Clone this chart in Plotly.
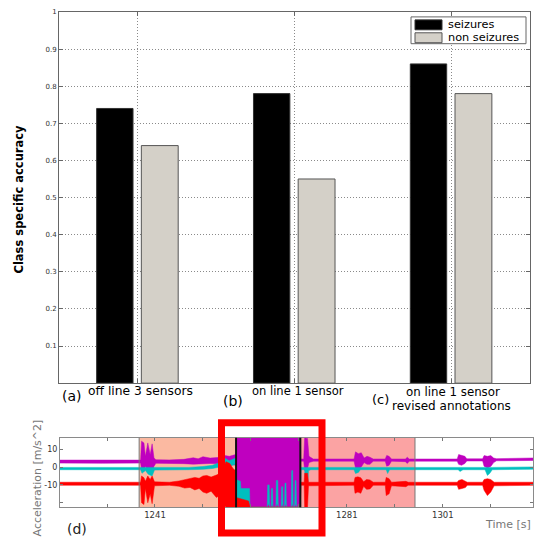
import plotly.graph_objects as go

W, H = 537, 538

# ---------------- data: bar chart ----------------
CAT_X = [1, 2, 3]
CAT_LETTERS = ["(a)", "(b)", "(c)"]
CAT_NAMES = ["off line 3 sensors", "on line 1 sensor", "on line 1 sensor", "revised annotations"]
SEIZURES = [0.74, 0.78, 0.86]
NON_SEIZURES = [0.64, 0.55, 0.78]
ACC_TICKS = [0.1, 0.2, 0.3, 0.4, 0.5, 0.6, 0.7, 0.8, 0.9, 1.0]
ACC_TICKTEXT = ["0.1", "0.2", "0.3", "0.4", "0.5", "0.6", "0.7", "0.8", "0.9", "1"]

# ---------------- data: acceleration panel (envelopes) ----------------
TIME_TICKS = [1231, 1241, 1251, 1261, 1271, 1281, 1291, 1301, 1311]
TIME_TICKTEXT = ["", "1241", "", "", "", "1281", "", "1301", ""]
ACC2_TICKS = [-20, -10, 0, 10]
ACC2_TICKTEXT = ["", "-10", "0", "10"]

PRE_SEIZURE = [1237.7, 1257.9]
SEIZURE = [1257.9, 1271.3]
POST_SEIZURE = [1271.3, 1295.2]

MAG_T = [1221, 1230, 1238.0, 1238.2, 1238.7, 1239.0, 1239.5, 1240.0, 1240.4, 1240.8, 1241.2,
         1244, 1247, 1249, 1250, 1251, 1252.5, 1254, 1255.5, 1256.5, 1257.8,
         1257.9, 1271.3,
         1271.4, 1272.0, 1272.2, 1272.8, 1273.1, 1274, 1282.5, 1282.8, 1283.4, 1284.0, 1284.6,
         1285.2, 1285.8, 1286.5, 1289.0, 1289.3, 1289.8, 1290.3, 1293.2, 1293.6, 1294.0,
         1304.0, 1304.3, 1304.9, 1305.6, 1306.0, 1309.3, 1309.6, 1310.3, 1311.0, 1311.6,
         1312.2, 1320.5]
MAG_HI = [3.9, 4.0, 3.9, 14.5, 13.5, 6.0, 13.5, 7.0, 13.0, 5.0, 4.1,
          4.0, 4.3, 5.2, 4.6, 5.8, 5.0, 5.3, 6.5, 6.0, 7.0,
          16.4, 16.4,
          4.5, 4.5, 16.4, 16.0, 6.0, 4.5, 4.5, 8.5, 7.5, 8.0, 5.0,
          6.0, 5.5, 4.5, 4.5, 6.5, 6.0, 4.5, 4.5, 5.5, 4.5,
          4.5, 7.0, 6.4, 6.0, 4.6, 4.6, 6.4, 6.0, 6.4, 5.0,
          4.7, 5.1]
MAG_LO = [2.2, 2.1, 2.2, -1.5, -2.5, 0.5, -2.0, -1.0, -3.0, 0.5, 2.1,
          2.2, 1.9, 1.6, 2.0, 1.8, 2.0, 1.8, 1.5, 1.5, 1.0,
          -22.5, -22.5,
          3.3, 3.3, -2.0, -1.0, 2.5, 3.3, 3.3, -0.5, -1.0, 0.0, 2.5,
          1.5, 1.5, 3.3, 3.3, 0.5, 1.0, 3.3, 3.0, 2.0, 3.3,
          3.3, 1.5, 1.0, 2.0, 3.4, 3.4, 0.5, -0.5, 0.3, 2.5,
          3.5, 3.7]

CYA_T = [1221, 1238.0, 1238.3, 1239.0, 1239.6, 1240.4, 1240.9, 1248, 1251, 1253, 1254.5,
         1255.5, 1256.5, 1257.8,
         1257.9, 1258.8, 1258.9, 1260.7, 1260.8, 1264.4, 1264.5, 1264.8, 1264.9, 1265.2,
         1265.3, 1265.5, 1265.6, 1266.2, 1266.3, 1266.6, 1266.7, 1267.3, 1267.4, 1267.6,
         1267.7, 1268.0, 1268.1, 1268.3, 1268.4, 1269.4, 1269.5, 1269.7, 1269.8, 1270.1,
         1270.2, 1270.4, 1270.5, 1271.3,
         1271.4, 1272.2, 1272.4, 1272.8, 1273.0, 1273.5, 1282.5, 1282.8, 1283.4, 1283.8,
         1289.2, 1289.5, 1289.9, 1304.2, 1304.6, 1305.2, 1309.8, 1310.3, 1310.8, 1311.3, 1320.5]
CYA_HI = [-0.2, -0.2, -0.5, -0.3, -0.5, -0.5, -0.2, -0.2, 0.3, 1.0, 2.5,
          5.0, 3.5, 5.0,
          -7.0, -8.0, -12.0, -12.0, -22.5, -22.5, -10.0, -10.0, -22.5, -22.5,
          -12.0, -12.0, -22.5, -22.5, -7.5, -7.5, -22.5, -22.5, -11.0, -11.0,
          -22.5, -22.5, -9.0, -9.0, -22.5, -22.5, -2.0, -2.0, -22.5, -22.5,
          -7.5, -7.5, -22.5, -22.5,
          -0.2, -0.2, -0.5, -0.5, -0.2, -0.2, -0.2, -0.3, -0.3, -0.2,
          -0.2, -0.3, -0.2, -0.2, -0.3, -0.2, -0.2, -0.3, -0.2, -0.2, 0.1]
CYA_LO = [-1.5, -1.5, -3.5, -2.0, -4.0, -5.0, -1.7, -1.5, -1.3, -0.8, 0.0,
          1.0, 0.5, 1.5,
          -20.0, -20.0, -20.0, -20.0, -22.5, -22.5, -21.0, -21.0, -22.5, -22.5,
          -21.0, -21.0, -22.5, -22.5, -21.0, -21.0, -22.5, -22.5, -21.0, -21.0,
          -22.5, -22.5, -21.0, -21.0, -22.5, -22.5, -21.0, -21.0, -22.5, -22.5,
          -21.0, -21.0, -22.5, -22.5,
          -1.5, -1.5, -14.0, -12.0, -2.0, -1.5, -1.5, -3.6, -3.0, -1.5,
          -1.5, -3.6, -1.5, -1.5, -2.5, -1.5, -1.5, -4.7, -3.5, -1.5, -1.2]

RED_T = [1221, 1238.0, 1238.2, 1238.7, 1239.0, 1239.5, 1240.0, 1240.4, 1240.9, 1244, 1246,
         1247.2, 1248.3, 1249.3, 1250.2, 1251.0, 1251.8, 1252.7, 1253.8, 1254.5, 1255.0,
         1255.8, 1256.6, 1257.3, 1257.8,
         1257.9, 1260.5, 1260.8, 1271.3,
         1271.4, 1272.1, 1272.2, 1272.8, 1273.0, 1282.5, 1282.7, 1283.3, 1283.9, 1284.5,
         1285.1, 1285.8, 1286.5, 1289.0, 1289.2, 1289.8, 1290.3, 1293.3, 1293.8, 1304.0,
         1304.3, 1305.0, 1305.7, 1306.1, 1309.3, 1309.6, 1310.3, 1311.0, 1311.7, 1320.5]
RED_HI = [-8.5, -8.5, -5.0, -6.0, -8.0, -5.0, -7.0, -5.0, -8.3, -8.5, -7.8,
          -7.0, -6.4, -5.8, -6.3, -5.0, -4.7, -5.6, -4.5, -3.6, -2.0,
          3.0, 2.0, -1.0, -2.0,
          -17.0, -19.0, -22.5, -22.5,
          -8.5, -8.5, -3.5, -3.5, -8.5, -8.5, -5.8, -5.5, -6.0, -8.2,
          -7.0, -7.2, -8.5, -8.5, -5.8, -6.5, -8.5, -8.0, -8.5, -8.5,
          -7.5, -7.0, -7.8, -8.5, -8.5, -7.0, -6.5, -7.0, -8.5, -8.5]
RED_LO = [-10.2, -10.2, -20.0, -21.0, -12.0, -20.0, -15.0, -20.5, -10.5, -10.2, -10.8,
          -11.8, -11.4, -12.8, -12.0, -14.0, -14.7, -13.5, -17.0, -16.0, -20.0,
          -22.5, -22.5, -22.5, -22.5,
          -22.5, -22.5, -22.5, -22.5,
          -10.2, -10.2, -22.5, -22.5, -10.5, -10.2, -14.7, -14.0, -14.7, -10.8,
          -12.5, -12.3, -10.2, -10.2, -16.0, -15.0, -10.5, -11.0, -10.2, -10.2,
          -12.5, -12.0, -11.5, -10.2, -10.2, -13.0, -16.0, -14.0, -10.5, -10.2]


def px(x):
    return x / W


def py(y):
    return 1 - y / H


FONT = "DejaVu Sans"
fig = go.Figure()

# ---------------- bars ----------------
fig.add_trace(go.Bar(x=CAT_X, y=SEIZURES, name="seizures", width=0.232, offset=-0.26,
                     marker=dict(color="black", line=dict(color="#333333", width=1)),
                     xaxis="x", yaxis="y", showlegend=False, hoverinfo="skip"))
fig.add_trace(go.Bar(x=CAT_X, y=NON_SEIZURES, name="non seizures", width=0.235, offset=0.025,
                     marker=dict(color="#D4D0C8", line=dict(color="#555555", width=1)),
                     xaxis="x", yaxis="y", showlegend=False, hoverinfo="skip"))

# ---------------- acceleration bands ----------------
def band(t, hi, lo, color):
    return go.Scatter(x=list(t) + list(t)[::-1], y=list(hi) + list(lo)[::-1],
                      fill="toself", fillcolor=color, mode="lines",
                      line=dict(color=color, width=0.5), xaxis="x2", yaxis="y2",
                      showlegend=False, hoverinfo="skip")


fig.add_trace(band(MAG_T, MAG_HI, MAG_LO, "#BF00BF"))
fig.add_trace(band(CYA_T, CYA_HI, CYA_LO, "#00BFBF"))
fig.add_trace(band(RED_T, RED_HI, RED_LO, "#FF0000"))

shapes = []
# shaded annotation regions
shapes.append(dict(type="rect", xref="x2", yref="y2 domain", x0=PRE_SEIZURE[0], x1=PRE_SEIZURE[1],
                   y0=0, y1=1, fillcolor="#FBB9A1", line=dict(width=0), layer="below"))
shapes.append(dict(type="rect", xref="x2", yref="y2 domain", x0=SEIZURE[0], x1=SEIZURE[1],
                   y0=0, y1=1, fillcolor="#BF00BF", line=dict(width=0), layer="below"))
shapes.append(dict(type="rect", xref="x2", yref="y2 domain", x0=POST_SEIZURE[0], x1=POST_SEIZURE[1],
                   y0=0, y1=1, fillcolor="#FBA3A3", line=dict(width=0), layer="below"))
for xv, col, wd in [(PRE_SEIZURE[0], "#777777", 1), (SEIZURE[0], "#111111", 2),
                    (SEIZURE[1], "#111111", 2), (POST_SEIZURE[1], "#777777", 1)]:
    shapes.append(dict(type="line", xref="x2", yref="y2 domain", x0=xv, x1=xv, y0=0, y1=1,
                       line=dict(color=col, width=wd), layer="above"))
# red highlight frame
shapes.append(dict(type="rect", xref="paper", yref="paper", x0=px(221.5), x1=px(322),
                   y0=py(533), y1=py(422), line=dict(color="#FF0000", width=7), layer="above"))
# legend box
shapes.append(dict(type="rect", xref="paper", yref="paper", x0=px(411), x1=px(526),
                   y0=py(40), y1=py(13), fillcolor="white", line=dict(color="#666666", width=1)))
shapes.append(dict(type="rect", xref="paper", yref="paper", x0=px(415), x1=px(442),
                   y0=py(26), y1=py(16), fillcolor="black", line=dict(color="#333333", width=1)))
shapes.append(dict(type="rect", xref="paper", yref="paper", x0=px(415), x1=px(442),
                   y0=py(39), y1=py(29), fillcolor="#D4D0C8", line=dict(color="#555555", width=1)))

ann = []
ann.append(dict(text="seizures", x=px(446), y=py(20.5), xanchor="left", yanchor="middle",
                font=dict(size=11.3, color="black")))
ann.append(dict(text="non seizures", x=px(446), y=py(33.5), xanchor="left", yanchor="middle",
                font=dict(size=11.3, color="black")))
ann.append(dict(text="<b>Class specific accuracy</b>", x=px(19.5), y=py(196.5), textangle=-90,
                xanchor="center", yanchor="middle", font=dict(size=11.5, color="black")))
# category labels
ann.append(dict(text=CAT_LETTERS[0], x=px(72), y=py(395), xanchor="center", yanchor="middle",
                font=dict(size=14, color="black")))
ann.append(dict(text=CAT_NAMES[0], x=px(86), y=py(390), xanchor="left", yanchor="middle",
                font=dict(size=12.3, color="black")))
ann.append(dict(text=CAT_LETTERS[1], x=px(232.5), y=py(400), xanchor="center", yanchor="middle",
                font=dict(size=14, color="black")))
ann.append(dict(text=CAT_NAMES[1], x=px(250), y=py(390), xanchor="left", yanchor="middle",
                font=dict(size=11.5, color="black")))
ann.append(dict(text=CAT_LETTERS[2], x=px(380), y=py(398), xanchor="center", yanchor="middle",
                font=dict(size=13, color="black")))
ann.append(dict(text=CAT_NAMES[2], x=px(452.5), y=py(390.5), xanchor="center", yanchor="middle",
                font=dict(size=11.8, color="black")))
ann.append(dict(text=CAT_NAMES[3], x=px(451.7), y=py(405), xanchor="center", yanchor="middle",
                font=dict(size=12, color="black")))
# acceleration panel labels
ann.append(dict(text="Acceleration [m/s^2]", x=px(37), y=py(478), textangle=-90,
                xanchor="center", yanchor="middle", font=dict(size=11, color="#777777")))
ann.append(dict(text="(d)", x=px(76.5), y=py(529), xanchor="center", yanchor="middle",
                font=dict(size=14, color="#222222")))
ann.append(dict(text="Time [s]", x=px(507.5), y=py(524), xanchor="center", yanchor="middle",
                font=dict(size=11, color="#777777")))
for a in ann:
    a.update(xref="paper", yref="paper", showarrow=False)

GRID_DASH = "1px,2px"
fig.update_layout(
    width=W, height=H, margin=dict(l=0, r=0, t=0, b=0, pad=0),
    paper_bgcolor="white", plot_bgcolor="white",
    font=dict(family=FONT, color="black"),
    barmode="overlay",
    xaxis=dict(domain=[px(59), px(529.5)], anchor="y", range=[0.5, 3.5],
               tickvals=CAT_X, ticktext=["", "", ""], ticks="inside", ticklen=4,
               tickcolor="#666666", showline=True, linecolor="#666666", linewidth=1, mirror="ticks",
               showgrid=True, gridcolor="#8A8A8A", griddash=GRID_DASH, gridwidth=1, zeroline=False,
               fixedrange=True),
    yaxis=dict(domain=[py(382), py(8)], anchor="x", range=[0, 1],
               tickvals=ACC_TICKS, ticktext=ACC_TICKTEXT, ticks="inside", ticklen=4,
               tickcolor="#666666", showline=True, linecolor="#666666", linewidth=1, mirror="ticks",
               showgrid=True, gridcolor="#8A8A8A", griddash=GRID_DASH, gridwidth=1, zeroline=False,
               tickfont=dict(size=7, color="#333333"), fixedrange=True),
    xaxis2=dict(domain=[px(60), px(533)], anchor="y2", range=[1221.2, 1319.8],
                tickvals=TIME_TICKS, ticktext=TIME_TICKTEXT, ticks="inside", ticklen=3,
                tickcolor="#777777", showline=True, linecolor="#8A8A8A", linewidth=1, mirror="ticks",
                showgrid=False, zeroline=False, tickfont=dict(size=8.5, color="#333333"),
                fixedrange=True),
    yaxis2=dict(domain=[py(507), py(437)], anchor="x2", range=[-22.5, 16.4],
                tickvals=ACC2_TICKS, ticktext=ACC2_TICKTEXT, ticks="inside", ticklen=3,
                tickcolor="#777777", showline=True, linecolor="#8A8A8A", linewidth=1, mirror="ticks",
                showgrid=False, zeroline=False, tickfont=dict(size=8, color="#333333"),
                fixedrange=True),
    shapes=shapes,
    annotations=ann,
)

fig.write_html("out.html", config={"displayModeBar": False},
               post_script="document.body.style.margin='0px';document.body.style.overflow='hidden';")
